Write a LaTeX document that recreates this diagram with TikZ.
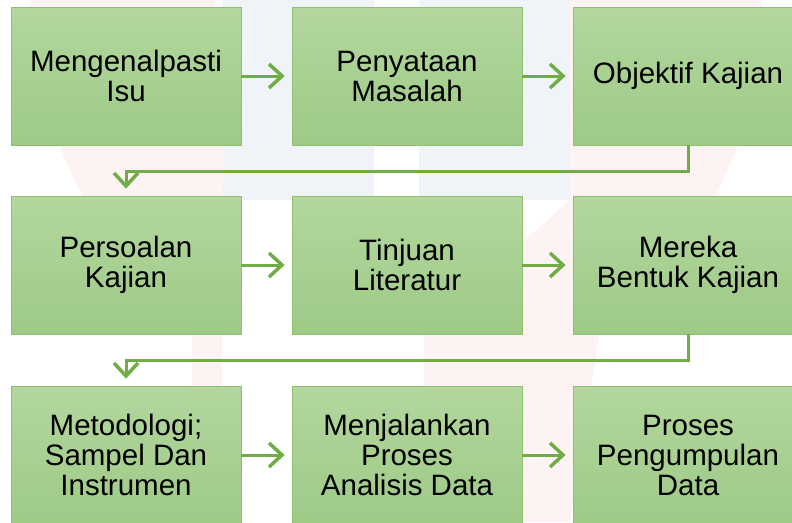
\documentclass[tikz,border=0pt]{standalone}
\usepackage{fontspec}
\setmainfont{Liberation Sans}
\usepackage{xcolor}
\usepackage{tikz}
\usetikzlibrary{arrows.meta}

\definecolor{boxtop}{HTML}{B3D79E}
\definecolor{boxbot}{HTML}{9ECA86}
\definecolor{boxline}{HTML}{8DC070}
\definecolor{flowgreen}{HTML}{70AD47}
\definecolor{wmpink}{HTML}{FDF3F3}
\definecolor{wmblue}{HTML}{F0F4F8}

\begin{document}
\begin{tikzpicture}[x=1pt, y=-1pt,
    stage/.style={rectangle, draw=boxline, line width=0.8pt, top color=boxtop, bottom color=boxbot,
      minimum width=230pt, minimum height=138pt, inner sep=0pt, align=center,
      font=\fontsize{29.5}{30}\selectfont},
    flow/.style={draw=flowgreen, line width=3pt, -{Straight Barb[length=13pt, width=24pt, line width=3.5pt]}}]
            \useasboundingbox (0,0) rectangle (792,522);
            \clip (0,0) rectangle (792,522);
            % faint watermark behind the boxes
            \fill[wmblue] (222,0) rectangle (374,200);
            \fill[wmblue] (419,0) rectangle (570,200);
            \fill[wmpink] (30,0) -- (215,0) .. controls (225,100) .. (222,200) -- (222,522) -- (192,522) -- (192,330)
              .. controls (110,260) and (40,160) .. (30,0);
            \fill[wmpink] (570,0) -- (762,0) .. controls (760,150) and (700,250) .. (600,330) -- (570,522)
              -- (424,522) -- (424,330) -- (570,200) -- cycle;
            % row one
            \node[stage] (isu)       at (126,76)  {Mengenalpasti\\Isu};
            \node[stage] (masalah)   at (407,76)  {Penyataan\\Masalah};
            \node[stage] (objektif)  at (688,76)  {Objektif Kajian};
            % row two
            \node[stage] (persoalan) at (126,265) {Persoalan\\Kajian};
            \node[stage] (literatur) at (407,265) {Tinjuan\\Literatur};
            \node[stage] (bentuk)    at (688,265) {Mereka\\Bentuk Kajian};
            % row three
            \node[stage] (metod)     at (126,455) {Metodologi;\\Sampel Dan\\Instrumen};
            \node[stage] (analisis)  at (407,455) {Menjalankan\\Proses\\Analisis Data};
            \node[stage] (kumpul)    at (688,455) {Proses\\Pengumpulan\\Data};
            % arrows along each row
            \draw[flow, shorten >=7pt] (isu) -- (masalah);
            \draw[flow, shorten >=7pt] (masalah) -- (objektif);
            \draw[flow, shorten >=7pt] (persoalan) -- (literatur);
            \draw[flow, shorten >=7pt] (literatur) -- (bentuk);
            \draw[flow, shorten >=7pt] (metod) -- (analisis);
            \draw[flow, shorten >=7pt] (analisis) -- (kumpul);
            % elbows down to the next row
            \draw[flow, shorten >=7pt] (objektif.south) -- ++(0,26) -| (persoalan.north);
            \draw[flow, shorten >=7pt] (bentuk.south) -- ++(0,26) -| (metod.north);
        \end{tikzpicture}
\end{document}
